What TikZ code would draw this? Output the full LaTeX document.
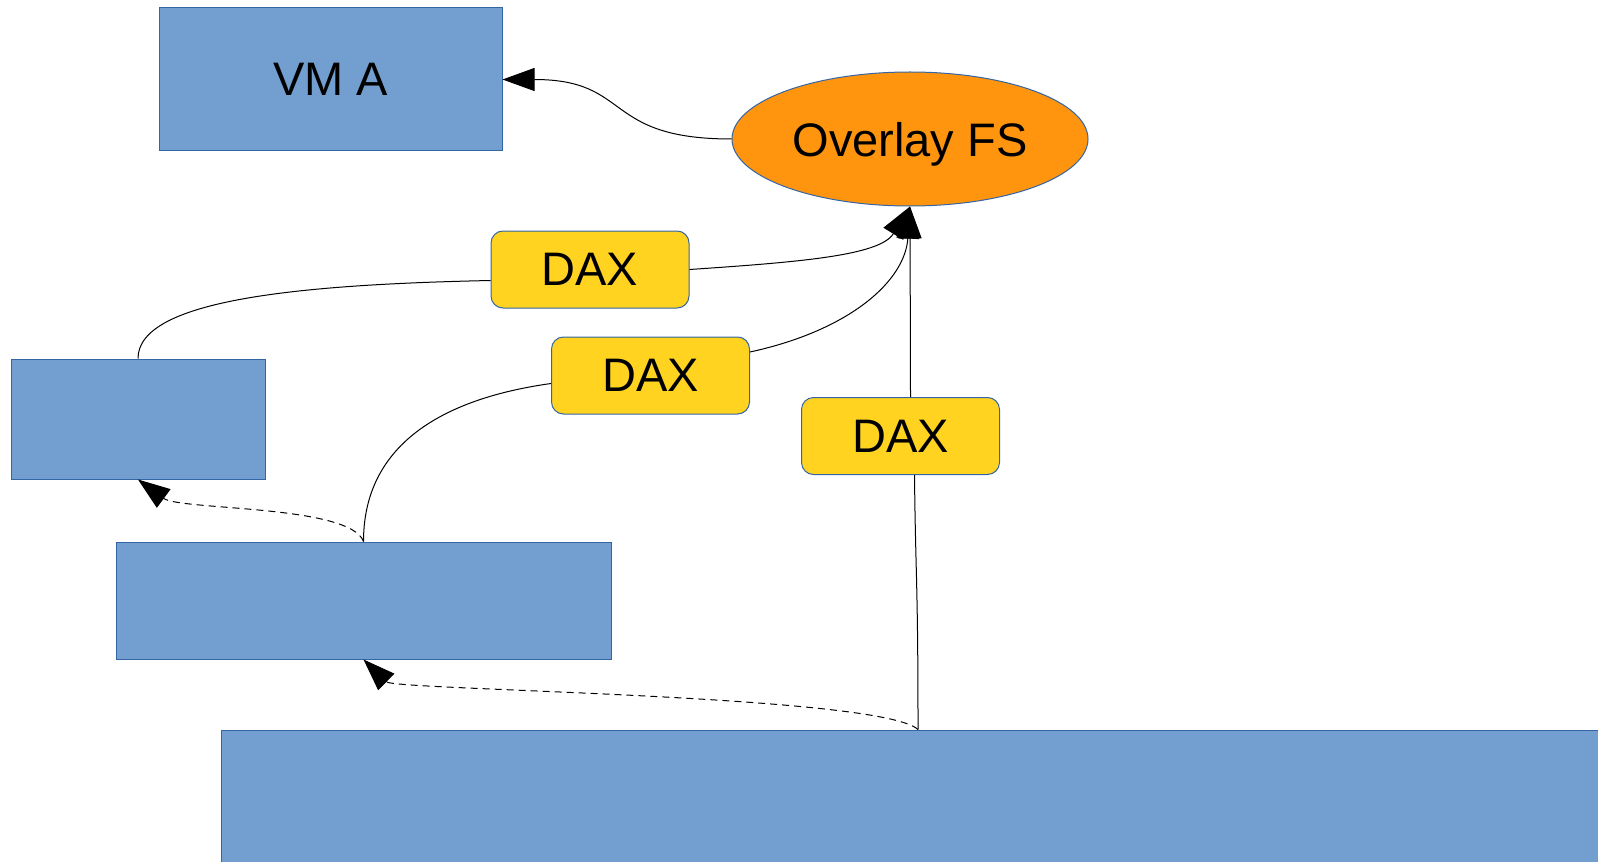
\documentclass[tikz,border=0pt]{standalone}
\usepackage{fontspec}
\setmainfont{Liberation Sans}
\usetikzlibrary{shapes.geometric, arrows.meta}
\definecolor{vmblue}{HTML}{729FCF}
\definecolor{edgeblue}{HTML}{3465A4}
\definecolor{fsorange}{HTML}{FF950E}
\definecolor{daxyellow}{HTML}{FFD320}

\begin{document}
\begin{tikzpicture}[x=0.5pt, y=-0.5pt,
  vmbox/.style={draw=edgeblue, fill=vmblue, line width=0.5pt, inner sep=0pt, font=\fontsize{23.5}{28}\selectfont},
  daxbox/.style={draw=edgeblue, fill=daxyellow, line width=0.5pt, rounded corners=6pt, inner sep=0pt, minimum width=99pt, minimum height=38.5pt, font=\fontsize{23.5}{28}\selectfont},
  link/.style={line width=0.5pt},
  dashlink/.style={line width=0.5pt, dash pattern=on 3.5pt off 2.5pt},
  >={Triangle[length=16pt, width=11.5pt]}]
\clip (0,0) rectangle (1598,861);
\node[vmbox, minimum width=171.5pt, minimum height=71.5pt] (vma) at (330.5,79.5) {VM A};
\node[draw=edgeblue, fill=fsorange, ellipse, line width=0.5pt, inner sep=0pt, text depth=0pt, minimum width=178pt, minimum height=67pt, font=\fontsize{23.5}{28}\selectfont] (fs) at (910,139) {Overlay FS};
\node[daxbox] (dax1) at (590,269.5) {DAX};
\node[daxbox] (dax2) at (650.5,375.5) {DAX};
\node[daxbox] (dax3) at (900.5,436) {DAX};
\node[vmbox, minimum width=127pt, minimum height=60pt] (img1) at (138,419) {};
\node[vmbox, minimum width=247.5pt, minimum height=58.5pt] (img2) at (363.5,600.5) {};
\node[vmbox, minimum width=697pt, minimum height=85pt] (img3) at (918,815) {};
% Arrows
\draw [->, link] (fs.west) .. controls +(-130,0) and +(130,0) .. (vma.east);
\draw [link] (img1.north) .. controls +(0,-59) and +(-190,4) .. ([yshift=-5.5pt]dax1.west);
\draw [->, link] (dax1.east) .. controls +(111,-7.5) and +(-30,49) .. (fs.south);
\draw [link] (img2.north) .. controls +(0,-112) and +(-82,11.5) .. ([yshift=-4pt]dax2.west);
\draw [->, link] ([yshift=11.75pt]dax2.east) .. controls +(101,-22) and +(-5,74) .. (fs.south);
\draw [link] (img3.north) .. controls +(0,-150) and +(1,100) .. ([xshift=7pt]dax3.south);
\draw [->, link] ([xshift=5pt]dax3.north) -- (fs.south);
\draw [->, dashlink] (img2.north) .. controls +(-13.5,-37) and +(42,31) .. (img1.south);
\draw [->, dashlink] (img3.north) .. controls +(-38,-35) and +(31.5,31) .. (img2.south);
\end{tikzpicture}
\end{document}
